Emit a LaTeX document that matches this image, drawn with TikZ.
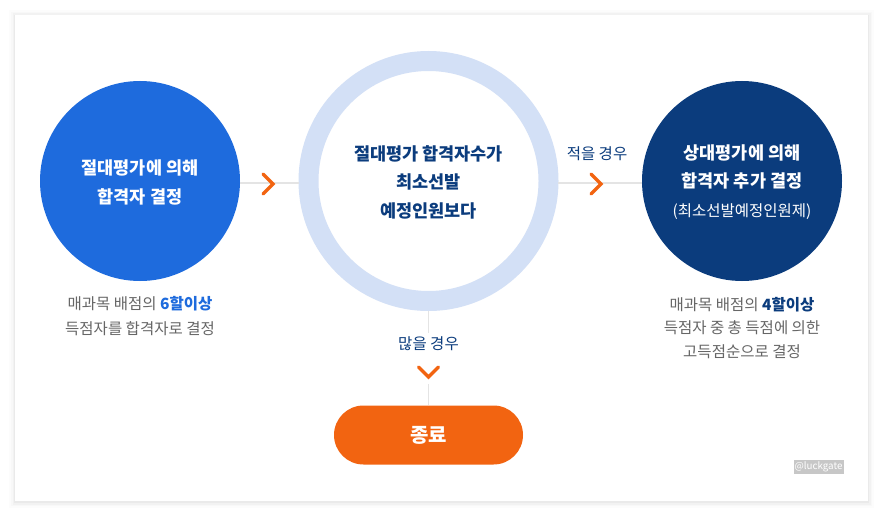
\documentclass[tikz,border=0pt]{standalone}
\usepackage{fontspec}
\setmainfont{Noto Sans CJK KR}
\usetikzlibrary{positioning,calc}
\definecolor{blueA}{HTML}{1E6BDD}
\definecolor{navy}{HTML}{0B3C7D}
\definecolor{ringc}{HTML}{D3E0F6}
\definecolor{orangeA}{HTML}{F26411}
\definecolor{greyT}{HTML}{666666}
\definecolor{lineg}{HTML}{E4E4E4}
\tikzset{
  chev/.style={draw=orangeA, line width=3.2pt, line cap=round, line join=miter},
  conn/.style={draw=lineg, line width=1.2pt},
  title/.style={align=center, font=\fontsize{17.5}{29}\selectfont\bfseries, text=white},
  subt/.style={align=center, font=\fontsize{15.5}{24.5}\selectfont, text=greyT},
  lbl/.style={font=\fontsize{15.5}{17}\selectfont, text=navy},
}
\begin{document}
\begin{tikzpicture}[x=1pt,y=-1pt]
\useasboundingbox (0,0) rectangle (883,516);
\fill[white] (0,0) rectangle (883,516);
% card shadow
\foreach \d/\o in {6/0.012,4/0.016,2.5/0.022,1.2/0.03}{
  \fill[black, opacity=\o] (15-\d,15-\d+1) rectangle (868+\d,501+\d+1);
}
\fill[white] (15,15) rectangle (868,501);
% nodes
\coordinate (c1) at (140,181);
\coordinate (c2) at (428.5,181);
\coordinate (c3) at (742,181);
\node[circle, fill=blueA, minimum size=200pt, inner sep=0pt] (n1) at (c1) {};
\node[circle, draw=ringc, line width=20pt, minimum size=240pt, inner sep=0pt, fill=white] (n2) at (c2) {};
\node[circle, fill=navy, minimum size=200pt, inner sep=0pt] (n3) at (c3) {};
\node[rounded corners=29.5pt, fill=orangeA, minimum width=189pt, minimum height=59pt, inner sep=0pt] (end) at (428.5,435) {};
% connectors
\path[conn] (n1.east |- 0,183) -- (299,183);
\path[conn] (558,183) -- (n3.west |- 0,183);
% labels
\node[lbl] (less) at (597,154) {적을 경우};
\node[lbl] (more) at (428.5,344) {많을 경우};
\coordinate (dchev) at (428.5,372);
\path[conn] (428.5,311) -- (more.north);
\path[conn] (428.5,384) -- (end.north);
% chevrons
\coordinate (ch1) at (268,184);
\coordinate (ch2) at (596,184);
\draw[chev] ($(ch1)+(-5,-10)$) -- ($(ch1)+(5,0)$) -- ($(ch1)+(-5,10)$);
\draw[chev] ($(ch2)+(-5,-10)$) -- ($(ch2)+(5,0)$) -- ($(ch2)+(-5,10)$);
\draw[chev] ($(dchev)+(-10,-5)$) -- ($(dchev)+(0,5)$) -- ($(dchev)+(10,-5)$);
% texts
\node[title] (t1) at (140,182) {절대평가에 의해\\합격자 결정};
\node[align=center, font=\fontsize{17.5}{28.5}\selectfont\bfseries, text=navy] (t2) at (428.5,182) {절대평가 합격자수가\\최소선발\\예정인원보다};
\node[align=center, text=white, font=\fontsize{17.5}{28.5}\selectfont] (t3) at (742,182) {\bfseries 상대평가에 의해\\\bfseries 합격자 추가 결정\\\fontsize{15.5}{28.5}\selectfont (최소선발예정인원제)};
\node[subt] (s1) at (140,316) {매과목 배점의 {\bfseries\color{blueA}6할이상}\\득점자를 합격자로 결정};
\node[subt, font=\fontsize{15.5}{23.8}\selectfont] (s3) at (742,328) {매과목 배점의 {\bfseries\color{navy}4할이상}\\득점자 중 총 득점에 의한\\고득점순으로 결정};
\node[font=\fontsize{20}{22}\selectfont\bfseries, text=white] (endt) at (end) {종료};
% watermark
\node[fill=black!22, text=white, font=\fontsize{9.8}{11}\selectfont, inner sep=1pt, minimum width=49pt, minimum height=14pt] (wm) at (818.5,467) {@luckgate};
\end{tikzpicture}
\end{document}
